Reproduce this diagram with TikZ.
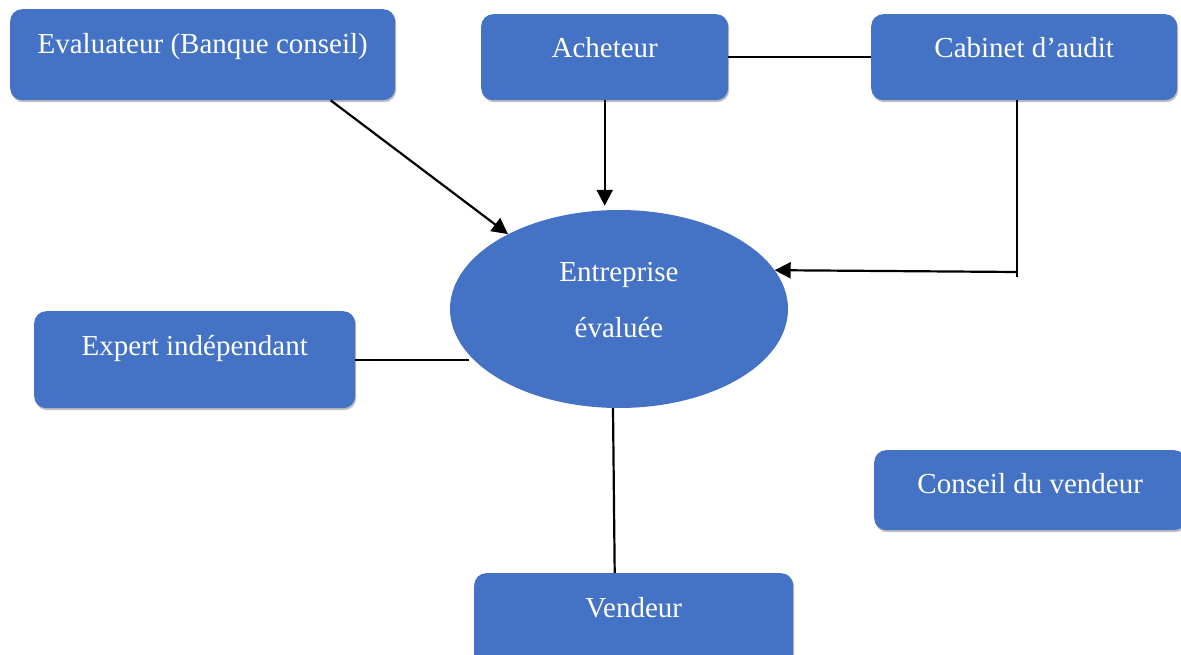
\documentclass[tikz,border=0pt]{standalone}
\usepackage{fontspec}
\setmainfont{Liberation Serif}
\usetikzlibrary{shapes.geometric,arrows.meta,shadows}
\definecolor{boxblue}{HTML}{4472C4}
\tikzset{
  boxnode/.style={fill=boxblue, rounded corners=12pt, inner sep=0pt, text=white,
    font=\fontsize{29}{34}\selectfont, anchor=north west,
    drop shadow={shadow xshift=1pt, shadow yshift=-2pt, fill=black, opacity=0.25}},
  ln/.style={line width=2.2pt, black},
  arr/.style={ln, -{Triangle[length=16pt,width=16pt]}},
}
\begin{document}
\begin{tikzpicture}[x=1pt,y=-1pt]
\useasboundingbox (0,0) rectangle (1181,655);
% boxes
\node[boxnode, minimum width=385pt, minimum height=91pt, text height=44pt, text depth=47pt] (ev) at (10,9) {Evaluateur (Banque conseil)};
\node[boxnode, minimum width=247pt, minimum height=86pt, text height=43pt, text depth=43pt] (ach) at (481,14) {Acheteur};
\node[boxnode, minimum width=306pt, minimum height=86pt, text height=43pt, text depth=43pt] (cab) at (871,14) {Cabinet d’audit};
\node[boxnode, minimum width=321pt, minimum height=97pt, text height=44pt, text depth=53pt] (exp) at (34,311) {Expert indépendant};
\node[boxnode, minimum width=312pt, minimum height=80pt, text height=43pt, text depth=37pt] (cons) at (874,450) {Conseil du vendeur};
\node[boxnode, minimum width=319pt, minimum height=95pt, text height=44pt, text depth=51pt] (ven) at (474,573) {Vendeur};
% ellipse
\node[ellipse, fill=boxblue, minimum width=338pt, minimum height=198pt, inner sep=0pt] (ent) at (619,309) {};
\node[text=white, font=\fontsize{29}{56}\selectfont, align=center, anchor=base] (entlbl) at (619,337) {Entreprise\\évaluée};
% connectors
\draw[arr] ([xshift=128pt]ev.south) -- (ent.146);
\draw[arr] (ach.south) -- ([yshift=4pt]ach.south |- ent.north);
\draw[ln] (ach.east) -- (cab.west);
\coordinate (k) at (1017,272);
\draw[ln] (cab.south -| k) -- ([yshift=-5pt]k);
\draw[arr] (k) -- (ent.14.6);
\draw[ln] (exp.east) -- (exp.east -| ent.197);
\draw[ln] ([xshift=-6pt]ent.south) -- ([xshift=-19pt]ven.north);
\end{tikzpicture}
\end{document}
